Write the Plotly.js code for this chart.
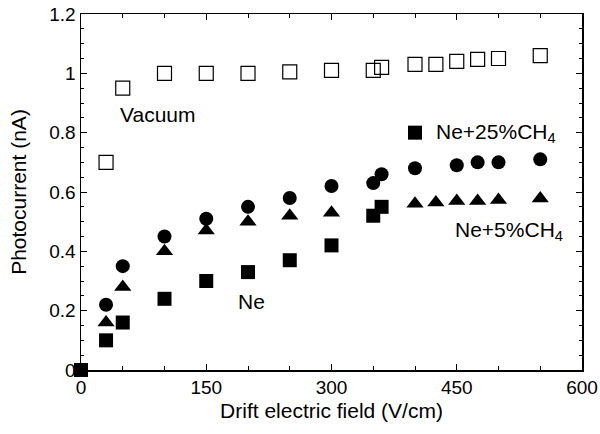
<!DOCTYPE html>
<html><head><meta charset="utf-8">
<script src="https://cdn.plot.ly/plotly-3.0.1.min.js"></script>
<style>body{margin:0;background:#fff}#chart{width:600px;height:434px}</style>
</head><body><div id="chart"></div>
<script>
const vacX = [30, 50, 100, 150, 200, 250, 300, 350, 360, 400, 425, 450, 475, 500, 550];
const vacY = [0.70, 0.95, 1.00, 1.00, 1.00, 1.005, 1.01, 1.01, 1.02, 1.03, 1.03, 1.04, 1.047, 1.05, 1.06];
const neX = [30, 50, 100, 150, 200, 250, 300, 350, 360, 400, 450, 475, 500, 550];
const neY = [0.22, 0.35, 0.45, 0.51, 0.55, 0.58, 0.62, 0.63, 0.66, 0.68, 0.69, 0.70, 0.70, 0.71];
const ch5X = [30, 50, 100, 150, 200, 250, 300, 400, 425, 450, 475, 500, 550];
const ch5Y = [0.16, 0.28, 0.40, 0.47, 0.50, 0.52, 0.53, 0.56, 0.565, 0.57, 0.57, 0.573, 0.578];
const ch25X = [0, 30, 50, 100, 150, 200, 250, 300, 350, 360];
const ch25Y = [0, 0.10, 0.16, 0.24, 0.30, 0.33, 0.37, 0.42, 0.52, 0.55];
const labels = [
  {text: 'Vacuum', x: 44, y: 0.86},
  {text: 'Ne', x: 186, y: 0.23},
  {text: 'Ne+25%CH<sub>4</sub>', x: 423, y: 0.80},
  {text: 'Ne+5%CH<sub>4</sub>', x: 446, y: 0.47}
];
const F = 'Arial, "Liberation Sans", sans-serif';
const traces = [
  {x: vacX, y: vacY, name: 'Vacuum', mode: 'markers', type: 'scatter', cliponaxis: false,
   marker: {symbol: 'square-open', size: 14, color: '#000', line: {width: 1.2}}},
  {x: neX, y: neY, name: 'Ne', mode: 'markers', type: 'scatter', cliponaxis: false,
   marker: {symbol: 'circle', size: 14, color: '#000'}},
  {x: ch5X, y: ch5Y, name: 'Ne+5%CH4', mode: 'markers', type: 'scatter', cliponaxis: false,
   marker: {symbol: 'triangle-up', size: 15, color: '#000'}},
  {x: ch25X, y: ch25Y, name: 'Ne+25%CH4', mode: 'markers', type: 'scatter', cliponaxis: false,
   marker: {symbol: 'square', size: 14, color: '#000'}},
  {x: [400], y: [0.80], mode: 'markers', type: 'scatter', hoverinfo: 'skip',
   marker: {symbol: 'square', size: 14, color: '#000'}}
];
const axisCommon = {
  showgrid: false, zeroline: false, showline: true, linecolor: '#000', linewidth: 1.5,
  mirror: 'ticks', ticks: 'inside', ticklen: 6, tickwidth: 1, tickcolor: '#000',
  tickfont: {family: F, size: 19, color: '#000'}
};
const annots = labels.map(l => ({
  text: l.text, x: l.x, y: l.y, xref: 'x', yref: 'y', xanchor: 'left', yanchor: 'middle',
  showarrow: false, font: {family: F, size: 21, color: '#000'}
}));
annots.push({
  text: 'Photocurrent (nA)', x: -0.126, y: 0.5, xref: 'paper', yref: 'paper',
  xanchor: 'center', yanchor: 'middle', textangle: -90, showarrow: false,
  font: {family: F, size: 21, color: '#000'}
});
const layout = {
  width: 600, height: 434, showlegend: false,
  paper_bgcolor: '#fff', plot_bgcolor: '#fff',
  margin: {l: 81, r: 18, t: 14, b: 64},
  font: {family: F, color: '#000'},
  xaxis: Object.assign({}, axisCommon, {
    range: [0, 600], tick0: 0, dtick: 150,
    minor: {dtick: 50, ticks: 'inside', ticklen: 4, tickcolor: '#000'},
    title: {text: 'Drift electric field (V/cm)', font: {family: F, size: 21, color: '#000'}, standoff: 6}
  }),
  yaxis: Object.assign({}, axisCommon, {
    range: [0, 1.2], tick0: 0, dtick: 0.2,
    minor: {dtick: 0.05, ticks: 'inside', ticklen: 3, tickcolor: '#000'}
  }),
  annotations: annots
};
Plotly.newPlot('chart', traces, layout, {staticPlot: true});
</script></body></html>
